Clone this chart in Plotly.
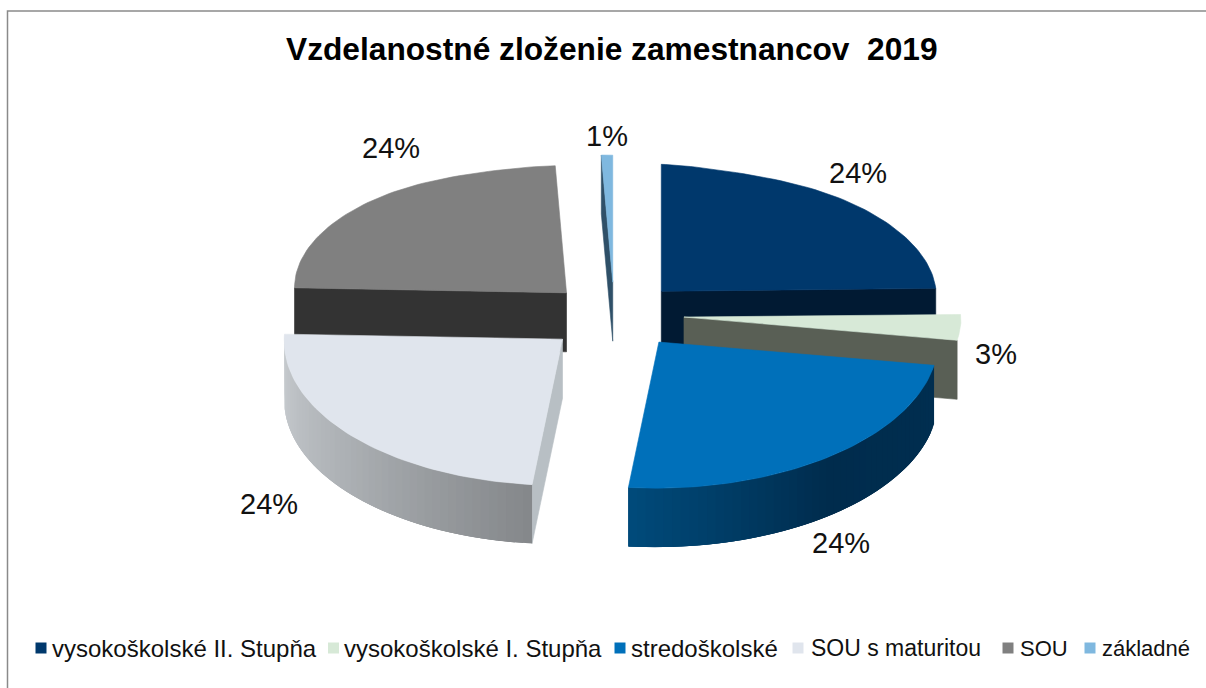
import math
import plotly.graph_objects as go

# --- data ---
categories = ["vysokoškolské II. Stupňa", "vysokoškolské I. Stupňa", "stredoškolské",
              "SOU s maturitou", "SOU", "základné"]
shares = [24, 3, 24, 24, 24, 1]
title_text = "Vzdelanostné zloženie zamestnancov  2019"

# --- style ---
top_colors = ["#00386C", "#D7E9D7", "#0070BA", "#E0E5ED", "#808080", "#7FB8DF"]
draw_order = [5, 4, 0, 1, 3, 2]
FONT = "Liberation Sans"
CX, CY = 612, 316
RY_BACK, RY_FRONT = 127, 146
DEPTH = 59
EXPLODE, EXPLODE_Y = 72, 0.47
slice_rx = [275, 277, 279, 278, 272, 275]
slice_nudge_x = [0, 0, 1, 3, 7, 3]
label_xy = [(858, 173), (996, 354), (841, 543), (269, 504), (391, 148), (607, 136)]
legend_swatch_x = [41, 333.5, 620, 798, 1008, 1090]
legend_text_x = [52, 344, 631, 811, 1020, 1102]
legend_font_size = [24, 24, 24, 23, 22, 22]
LEGEND_Y = 648


def angles():
    out, a = [], 0.0
    for v in shares:
        b = a + v / sum(shares) * 360
        out.append((a, b))
        a = b
    return out


def point(deg, apex, rx, depth=0.0):
    t = math.radians(deg)
    s, c = math.sin(t), math.cos(t)
    if c > 0:
        x = rx * s * (1 - 0.35 * c ** 16)
        y = -RY_BACK * c
    else:
        x = rx * s + 13 * c
        y = -RY_FRONT * c
    return (apex[0] + x, apex[1] + y + 5 * s + depth)


def mix(a, b, f):
    ca = [int(a[i:i + 2], 16) for i in (1, 3, 5)]
    cb = [int(b[i:i + 2], 16) for i in (1, 3, 5)]
    return "#%02x%02x%02x" % tuple(round(x + (y - x) * f) for x, y in zip(ca, cb))


fig = go.Figure()


def poly(pts, color, width=0.6):
    fig.add_trace(go.Scatter(
        x=[p[0] for p in pts] + [pts[0][0]], y=[p[1] for p in pts] + [pts[0][1]],
        mode="lines", fill="toself", fillcolor=color,
        line=dict(color=color, width=width), hoverinfo="skip", showlegend=False))


def radial_face(deg, apex, rx, color):
    poly([apex, point(deg, apex, rx), point(deg, apex, rx, DEPTH), (apex[0], apex[1] + DEPTH)], color)


def outer_side(a, b, apex, rx, c_a, c_mid, c_b):
    n = 48
    for i in range(n):
        d0 = a + (b - a) * i / n
        d1 = min(b, a + (b - a) * (i + 3) / n)  # overlap the next strips to hide seams
        f = i / (n - 1)
        col = mix(c_a, c_mid, f * 2) if f < .5 else mix(c_mid, c_b, (f - .5) * 2)
        steps = [d0 + (d1 - d0) * k / 4 for k in range(5)]
        pts = [point(d, apex, rx) for d in steps] + [point(d, apex, rx, DEPTH) for d in reversed(steps)]
        poly(pts, col, width=0)


spans = angles()
for i in draw_order:
    a, b = spans[i]
    rx = slice_rx[i]
    mid = math.radians((a + b) / 2)
    apex = (CX + EXPLODE * math.sin(mid) + slice_nudge_x[i], CY - EXPLODE * EXPLODE_Y * math.cos(mid))
    if i == 0:
        radial_face(b, apex, rx, "#011A33")
    elif i == 1:
        radial_face(b, apex, rx, "#595F55")
    elif i == 2:
        outer_side(a, b, apex, rx, "#002E50", "#002C4D", "#004A7A")
    elif i == 3:
        radial_face(a, apex, rx, "#B8BFC4")
        outer_side(a, b, apex, rx, "#85888B", "#ABAFB3", "#CACED2")
    elif i == 4:
        radial_face(a, apex, rx, "#333333")
    elif i == 5:
        radial_face(a, apex, rx, "#2F5068")
    n = 60
    arc = [point(a + (b - a) * k / n, apex, rx) for k in range(n + 1)]
    poly([apex] + arc, top_colors[i])

# legend swatches
fig.add_trace(go.Scatter(
    x=legend_swatch_x, y=[LEGEND_Y] * len(categories), mode="markers",
    marker=dict(symbol="square", size=11, color=top_colors, line=dict(width=0)),
    hoverinfo="skip", showlegend=False))

ann = []
for v, (x, y) in zip(shares, label_xy):
    ann.append(dict(x=x, y=y, text=f"{v}%", showarrow=False, xanchor="center", yanchor="middle",
                    font=dict(family=FONT, size=29, color="#111111")))
for c, x, fs in zip(categories, legend_text_x, legend_font_size):
    ann.append(dict(x=x, y=LEGEND_Y, text=c, showarrow=False, xanchor="left", yanchor="middle",
                    xshift=-2, font=dict(family=FONT, size=fs, color="#111111")))
ann.append(dict(x=612, y=49, text=f"<b>{title_text.replace('  ', '&#160;&#160;')}</b>", showarrow=False,
                xanchor="center", yanchor="middle", font=dict(family=FONT, size=31.7, color="#000000")))

frame = dict(type="path", path="M 7.5 688 L 7.5 11 L 1206 11", line=dict(color="#8A8A8A", width=1.5))

fig.update_layout(
    width=1206, height=688, autosize=False, margin=dict(l=0, r=0, t=0, b=0),
    paper_bgcolor="white", plot_bgcolor="white", showlegend=False,
    xaxis=dict(range=[0, 1206], visible=False, fixedrange=True),
    yaxis=dict(range=[688, 0], visible=False, fixedrange=True),
    annotations=ann, shapes=[frame])
fig.write_html("out.html", config=dict(displayModeBar=False),
               post_script="document.body.style.margin='0';document.body.style.overflow='hidden';")
